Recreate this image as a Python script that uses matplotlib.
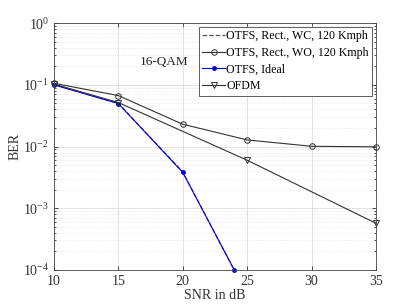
import numpy as np
import matplotlib
matplotlib.use('Agg')
import matplotlib.pyplot as plt
from matplotlib.ticker import LogLocator, NullFormatter

plt.rcParams['font.family'] = ['Liberation Serif', 'DejaVu Serif']
plt.rcParams['mathtext.fontset'] = 'stix'

# data
snr_wc = [10, 15, 20, 24]
ber_wc = [0.101, 0.050, 0.0039, 0.000098]

snr_wo = [10, 15, 20, 25, 30, 35]
ber_wo = [0.106, 0.067, 0.023, 0.0128, 0.0101, 0.0099]

snr_ideal = [10, 15, 20, 24]
ber_ideal = [0.100, 0.0498, 0.0038, 0.0001]

snr_ofdm = [10, 15, 25, 35]
ber_ofdm = [0.103, 0.0517, 0.0060, 0.00057]

labels = ['OTFS, Rect., WC, 120 Kmph', 'OTFS, Rect., WO, 120 Kmph',
          'OTFS, Ideal', 'OFDM']

fig = plt.figure(figsize=(4.15, 3.05), dpi=100)
ax = fig.add_axes([0.130, 0.115, 0.776, 0.809])

ax.semilogy(snr_wc, ber_wc, '--', color='#555555', lw=0.9, label=labels[0],
            clip_on=False)
ax.semilogy(snr_wo, ber_wo, '-o', color='#333333', lw=0.8, ms=4,
            mfc='none', mew=0.7, label=labels[1], clip_on=False)
ax.semilogy(snr_ideal, ber_ideal, '-', color='#0000ee', lw=0.8, marker='.',
            ms=5, label=labels[2], clip_on=False)
ax.semilogy(snr_ofdm, ber_ofdm, '-v', color='#333333', lw=0.8, ms=4,
            mfc='none', mew=0.7, label=labels[3], clip_on=False)

ax.set_xlim(10, 35)
ax.set_ylim(1e-4, 1)
ax.set_xticks([10, 15, 20, 25, 30, 35])
ax.yaxis.set_major_locator(LogLocator(base=10, numticks=10))
ax.yaxis.set_minor_locator(LogLocator(base=10, subs=np.arange(2, 10), numticks=10))
ax.yaxis.set_minor_formatter(NullFormatter())

ax.grid(True, which='major', color='#dddddd', lw=0.6)
ax.grid(True, which='minor', color='#dddddd', lw=0.5, ls=':')
ax.set_axisbelow(True)
ax.tick_params(which='both', direction='in', top=True, right=True,
               labelsize=10, colors='#333333', width=0.6)
ax.tick_params(which='major', length=3)
ax.tick_params(which='minor', length=1.5)
for s in ax.spines.values():
    s.set_color('#444444')
    s.set_linewidth(0.6)

ax.set_xlabel('SNR in dB', fontsize=10, labelpad=1, color='#333333')
ax.set_ylabel('BER', fontsize=10, labelpad=1, color='#333333')
ax.text(16.7, 0.236, '16-QAM', fontsize=9.5, color='#222222', va='center')

leg = ax.legend(loc='upper right', fontsize=8.6, handlelength=1.9,
                handletextpad=0.1, borderpad=0.3, labelspacing=0.38,
                borderaxespad=0.3, fancybox=False, framealpha=1)
leg.get_frame().set_edgecolor('#444444')
leg.get_frame().set_linewidth(0.6)

fig.savefig('out.png', dpi=100)
